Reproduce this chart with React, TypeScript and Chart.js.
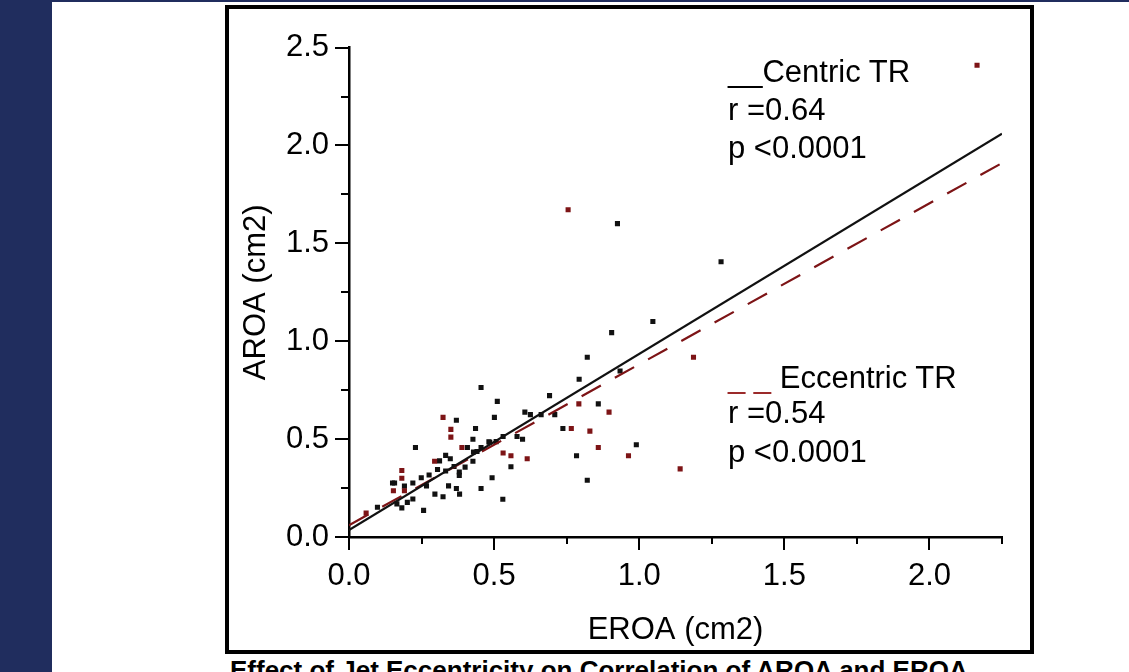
import React, { useEffect, useRef } from 'react';
import { Chart, registerables } from 'chart.js';

Chart.register(...registerables);

// ---- data ----
const centricX = [0.098, 0.150, 0.157, 0.165, 0.182, 0.191, 0.201, 0.220, 0.220, 0.229, 0.249, 0.257, 0.267, 0.276, 0.296, 0.305, 0.312, 0.324, 0.333, 0.333, 0.343, 0.349, 0.362, 0.370, 0.370, 0.380, 0.380, 0.381, 0.400, 0.408, 0.427, 0.427, 0.429, 0.436, 0.441, 0.455, 0.455, 0.455, 0.482, 0.485, 0.493, 0.501, 0.507, 0.511, 0.530, 0.531, 0.558, 0.579, 0.598, 0.606, 0.625, 0.662, 0.691, 0.709, 0.737, 0.784, 0.793, 0.821, 0.821, 0.859, 0.905, 0.925, 0.934, 0.990, 1.047, 1.282];
const centricY = [0.152, 0.276, 0.276, 0.169, 0.149, 0.260, 0.177, 0.276, 0.194, 0.457, 0.303, 0.136, 0.261, 0.317, 0.219, 0.345, 0.389, 0.206, 0.417, 0.337, 0.261, 0.400, 0.360, 0.596, 0.248, 0.332, 0.315, 0.219, 0.357, 0.457, 0.499, 0.387, 0.434, 0.554, 0.437, 0.764, 0.248, 0.457, 0.486, 0.484, 0.303, 0.611, 0.487, 0.693, 0.193, 0.513, 0.359, 0.513, 0.499, 0.638, 0.625, 0.625, 0.722, 0.625, 0.554, 0.415, 0.806, 0.290, 0.918, 0.680, 1.044, 1.601, 0.848, 0.471, 1.101, 1.406];

const eccentricX = [0.059, 0.153, 0.182, 0.182, 0.191, 0.295, 0.324, 0.351, 0.351, 0.389, 0.531, 0.558, 0.614, 0.755, 0.766, 0.792, 0.830, 0.859, 0.896, 0.963, 1.141, 1.187, 2.164];
const eccentricY = [0.122, 0.236, 0.300, 0.340, 0.236, 0.387, 0.611, 0.550, 0.510, 0.457, 0.429, 0.415, 0.400, 1.672, 0.554, 0.680, 0.541, 0.457, 0.638, 0.415, 0.348, 0.918, 2.410];

const fitX = [0, 2.25];
const centricFitY = [0.035, 2.06];
const eccentricFitY = [0.06, 1.91];

const xTickValues = [0, 0.25, 0.5, 0.75, 1.0, 1.25, 1.5, 1.75, 2.0, 2.25];
const xTickLabels = ['0.0', '', '0.5', '', '1.0', '', '1.5', '', '2.0', ''];
const yTickValues = [0, 0.25, 0.5, 0.75, 1.0, 1.25, 1.5, 1.75, 2.0, 2.25, 2.5];
const yTickLabels = ['0.0', '', '0.5', '', '1.0', '', '1.5', '', '2.0', '', '2.5'];

const xTitle = 'EROA (cm2)';
const yTitle = 'AROA (cm2)';
const centricLabel = 'Centric TR';
const centricR = 'r =0.64';
const centricP = 'p <0.0001';
const eccentricLabel = 'Eccentric TR';
const eccentricR = 'r =0.54';
const eccentricP = 'p <0.0001';
const footTitle = 'Effect of Jet Eccentricity on Correlation of AROA and EROA';

const BLACK = '#111111';
const RED = '#7d1416';
const NAVY = '#202d5e';
const FONT = '"Liberation Sans", Arial, sans-serif';

const tickMarks = {
  id: 'tickMarks',
  afterDraw(chart: any) {
    const { ctx, chartArea, scales } = chart;
    ctx.save();
    ctx.strokeStyle = '#000';
    ctx.lineWidth = 2;
    scales.x.ticks.forEach((t: any, i: number) => {
      const px = Math.round(scales.x.getPixelForValue(t.value));
      const len = xTickLabels[i] ? 13 : 7;
      ctx.beginPath();
      ctx.moveTo(px, chartArea.bottom);
      ctx.lineTo(px, chartArea.bottom + len);
      ctx.stroke();
    });
    scales.y.ticks.forEach((t: any, i: number) => {
      const py = Math.round(scales.y.getPixelForValue(t.value));
      const len = yTickLabels[i] ? 14 : 8;
      ctx.beginPath();
      ctx.moveTo(chartArea.left, py);
      ctx.lineTo(chartArea.left - len, py);
      ctx.stroke();
    });
    ctx.restore();
  },
};

function ScatterChart() {
  const ref = useRef<HTMLCanvasElement | null>(null);
  useEffect(() => {
    if (!ref.current) return;
    const tickFont = { family: FONT, size: 31 };
    const chart = new Chart(ref.current, {
      type: 'scatter',
      data: {
        datasets: [
          {
            label: 'Centric fit',
            data: fitX.map((x, i) => ({ x, y: centricFitY[i] })),
            showLine: true,
            borderColor: BLACK,
            borderWidth: 2.2,
            pointRadius: 0,
          },
          {
            label: 'Eccentric fit',
            data: fitX.map((x, i) => ({ x, y: eccentricFitY[i] })),
            showLine: true,
            borderColor: RED,
            borderWidth: 2.2,
            borderDash: [22, 16],
            pointRadius: 0,
          },
          {
            label: 'Eccentric TR',
            data: eccentricX.map((x, i) => ({ x, y: eccentricY[i] })),
            pointStyle: 'rect',
            pointRadius: 3.6,
            pointBorderWidth: 0,
            backgroundColor: RED,
            borderColor: RED,
          },
          {
            label: 'Centric TR',
            data: centricX.map((x, i) => ({ x, y: centricY[i] })),
            pointStyle: 'rect',
            pointRadius: 3.6,
            pointBorderWidth: 0,
            backgroundColor: BLACK,
            borderColor: BLACK,
          },
        ],
      },
      options: {
        responsive: false,
        maintainAspectRatio: false,
        animation: false,
        layout: { padding: { top: 30, right: 28, left: 0, bottom: 0 } },
        plugins: { legend: { display: false }, tooltip: { enabled: false } },
        scales: {
          x: {
            type: 'linear',
            min: 0,
            max: 2.25,
            afterBuildTicks: (scale: any) => {
              scale.ticks = xTickValues.map((v) => ({ value: v }));
            },
            afterFit: (scale: any) => {
              scale.height = 113;
            },
            grid: { display: false, drawTicks: false },
            border: { display: true, color: '#000', width: 2.5 },
            ticks: {
              autoSkip: false,
              maxRotation: 0,
              padding: 21,
              color: '#000',
              font: tickFont,
              callback: (_v: any, i: number) => xTickLabels[i],
            },
            title: {
              display: true,
              text: xTitle,
              color: '#000',
              font: tickFont,
              padding: { top: 0, bottom: 1 },
            },
          },
          y: {
            type: 'linear',
            min: 0,
            max: 2.5,
            afterBuildTicks: (scale: any) => {
              scale.ticks = yTickValues.map((v) => ({ value: v }));
            },
            afterFit: (scale: any) => {
              scale.width = 120;
            },
            grid: { display: false, drawTicks: false },
            border: { display: true, color: '#000', width: 2.5 },
            ticks: {
              autoSkip: false,
              padding: 20,
              color: '#000',
              font: tickFont,
              callback: (_v: any, i: number) => yTickLabels[i],
            },
            title: {
              display: true,
              text: yTitle,
              color: '#000',
              font: tickFont,
              padding: { top: 9, bottom: 0 },
            },
          },
        },
      },
      plugins: [tickMarks],
    } as any);
    return () => chart.destroy();
  }, []);
  return (
    <canvas
      ref={ref}
      width={801}
      height={641}
      style={{ position: 'absolute', left: 229, top: 9, width: 801, height: 641 }}
    />
  );
}

const lineStyle = (top: number, left: number): React.CSSProperties => ({
  position: 'absolute',
  top,
  left,
  fontSize: 31,
  lineHeight: '38px',
  whiteSpace: 'nowrap',
  color: '#000',
});

export default function App() {
  return (
    <div
      style={{
        position: 'absolute',
        left: 0,
        top: 0,
        width: 1129,
        height: 672,
        overflow: 'hidden',
        background: '#fff',
        fontFamily: FONT,
      }}
    >
      <div style={{ position: 'absolute', left: 0, top: 0, width: 52, height: 672, background: NAVY }} />
      <div style={{ position: 'absolute', left: 52, top: 0, width: 1077, height: 2, background: NAVY }} />
      <div
        style={{
          position: 'absolute',
          left: 225,
          top: 5,
          width: 809,
          height: 649,
          border: '4px solid #000',
          boxSizing: 'border-box',
        }}
      />
      <ScatterChart />
      <div style={lineStyle(53, 728)}>
        <span>__</span>
        {centricLabel}
      </div>
      <div style={lineStyle(91, 728)}>{centricR}</div>
      <div style={lineStyle(129, 728)}>{centricP}</div>
      <div style={lineStyle(359, 728)}>
        <span style={{ color: '#9b2a2a' }}>_ _ </span>
        {eccentricLabel}
      </div>
      <div style={lineStyle(394, 728)}>{eccentricR}</div>
      <div style={lineStyle(433, 728)}>{eccentricP}</div>
      <div
        style={{
          position: 'absolute',
          left: 230,
          top: 657,
          fontSize: 26,
          lineHeight: '26px',
          fontWeight: 'bold',
          whiteSpace: 'nowrap',
          color: '#000',
        }}
      >
        {footTitle}
      </div>
    </div>
  );
}
